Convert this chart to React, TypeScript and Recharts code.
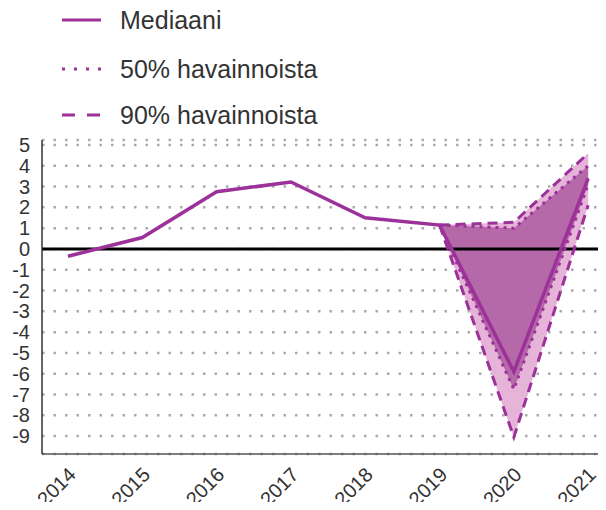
import { ComposedChart, Line, Area, XAxis, YAxis, CartesianGrid, ReferenceLine } from 'recharts';

const years = [2014, 2015, 2016, 2017, 2018, 2019, 2020, 2021];
const median = [-0.35, 0.55, 2.75, 3.22, 1.5, 1.15, -5.9, 3.4];
const p50Low = [null, null, null, null, null, 1.15, -6.75, 3.1];
const p50High = [null, null, null, null, null, 1.15, 1.0, 4.0];
const p90Low = [null, null, null, null, null, 1.15, -9.05, 2.1];
const p90High = [null, null, null, null, null, 1.15, 1.28, 4.6];
const yTicks = [5, 4, 3, 2, 1, 0, -1, -2, -3, -4, -5, -6, -7, -8, -9];

const data = years.map((year, i) => ({
  year,
  median: median[i],
  p50Low: p50Low[i],
  p50High: p50High[i],
  p90Low: p90Low[i],
  p90High: p90High[i],
  p50: p50Low[i] == null ? null : [p50Low[i], p50High[i]],
  p90: p90Low[i] == null ? null : [p90Low[i], p90High[i]],
}));

const purple = '#9b3199';
const font = '"Liberation Sans", Arial, sans-serif';

// rotated year labels, anchored a bit right of the tick like the original
const YearTick = ({ x, y, payload }: any) => {
  const ax = x + 9;
  const ay = y + 14;
  return (
    <g transform={`translate(${ax}, ${ay}) rotate(-45)`}>
      <text x={0} y={0} textAnchor="end" fontSize={20} fontFamily={font} fill="#333">
        {payload.value}
      </text>
    </g>
  );
};

const legendItems = [
  { label: 'Mediaani', dash: undefined, y: 20 },
  { label: '50% havainnoista', dash: '3 9', y: 69 },
  { label: '90% havainnoista', dash: '13 12', y: 115 },
];

const Legend = () => (
  <svg width={606} height={140} style={{ position: 'absolute', left: 0, top: 0 }}>
    {legendItems.map((it) => (
      <g key={it.label}>
        <line x1={62} x2={101} y1={it.y} y2={it.y} stroke={purple} strokeWidth={3} strokeDasharray={it.dash} />
        <text x={120} y={it.y + 8.5} fontSize={25} fontFamily={font} fill="#333">
          {it.label}
        </text>
      </g>
    ))}
  </svg>
);

const App = () => {
  return (
    <div style={{ position: 'relative', width: 606, height: 510, margin: -8, background: '#fff' }}>
      <ComposedChart
        width={606}
        height={510}
        data={data}
        margin={{ top: 140, right: 0, left: 0, bottom: 0 }}
      >
        <CartesianGrid vertical={false} stroke="#aaa" strokeWidth={2.5} strokeDasharray="2.5 9" />
        <XAxis
          dataKey="year"
          type="number"
          domain={[2013.65, 2021.24]}
          ticks={years}
          allowDataOverflow
          height={56}
          axisLine={{ stroke: '#555', strokeWidth: 1.5 }}
          tickLine={false}
          tick={<YearTick />}
          interval={0}
        />
        <YAxis
          domain={[-9.86, 5.24]}
          ticks={yTicks}
          allowDataOverflow
          width={42}
          interval={0}
          axisLine={{ stroke: '#333', strokeWidth: 1.5 }}
          tickLine={false}
          tickMargin={6}
          tick={{ fill: '#333', fontSize: 20, fontFamily: font }}
        />
        <Area dataKey="p90" stroke="none" fill="#e6b4d9" fillOpacity={1} isAnimationActive={false} />
        <Area dataKey="p50" stroke="none" fill="#b569a9" fillOpacity={1} isAnimationActive={false} />
        <ReferenceLine y={0} stroke="#000" strokeWidth={3} />
        <Line dataKey="p90High" stroke={purple} strokeWidth={3} strokeDasharray="10 6" dot={false} isAnimationActive={false} />
        <Line dataKey="p90Low" stroke={purple} strokeWidth={3} strokeDasharray="10 6" dot={false} isAnimationActive={false} />
        <Line dataKey="p50High" stroke={purple} strokeWidth={3} strokeDasharray="3 5" dot={false} isAnimationActive={false} />
        <Line dataKey="p50Low" stroke={purple} strokeWidth={3} strokeDasharray="3 5" dot={false} isAnimationActive={false} />
        <Line dataKey="median" stroke={purple} strokeWidth={3.5} dot={false} isAnimationActive={false} />
      </ComposedChart>
      <Legend />
    </div>
  );
};

export default App;
